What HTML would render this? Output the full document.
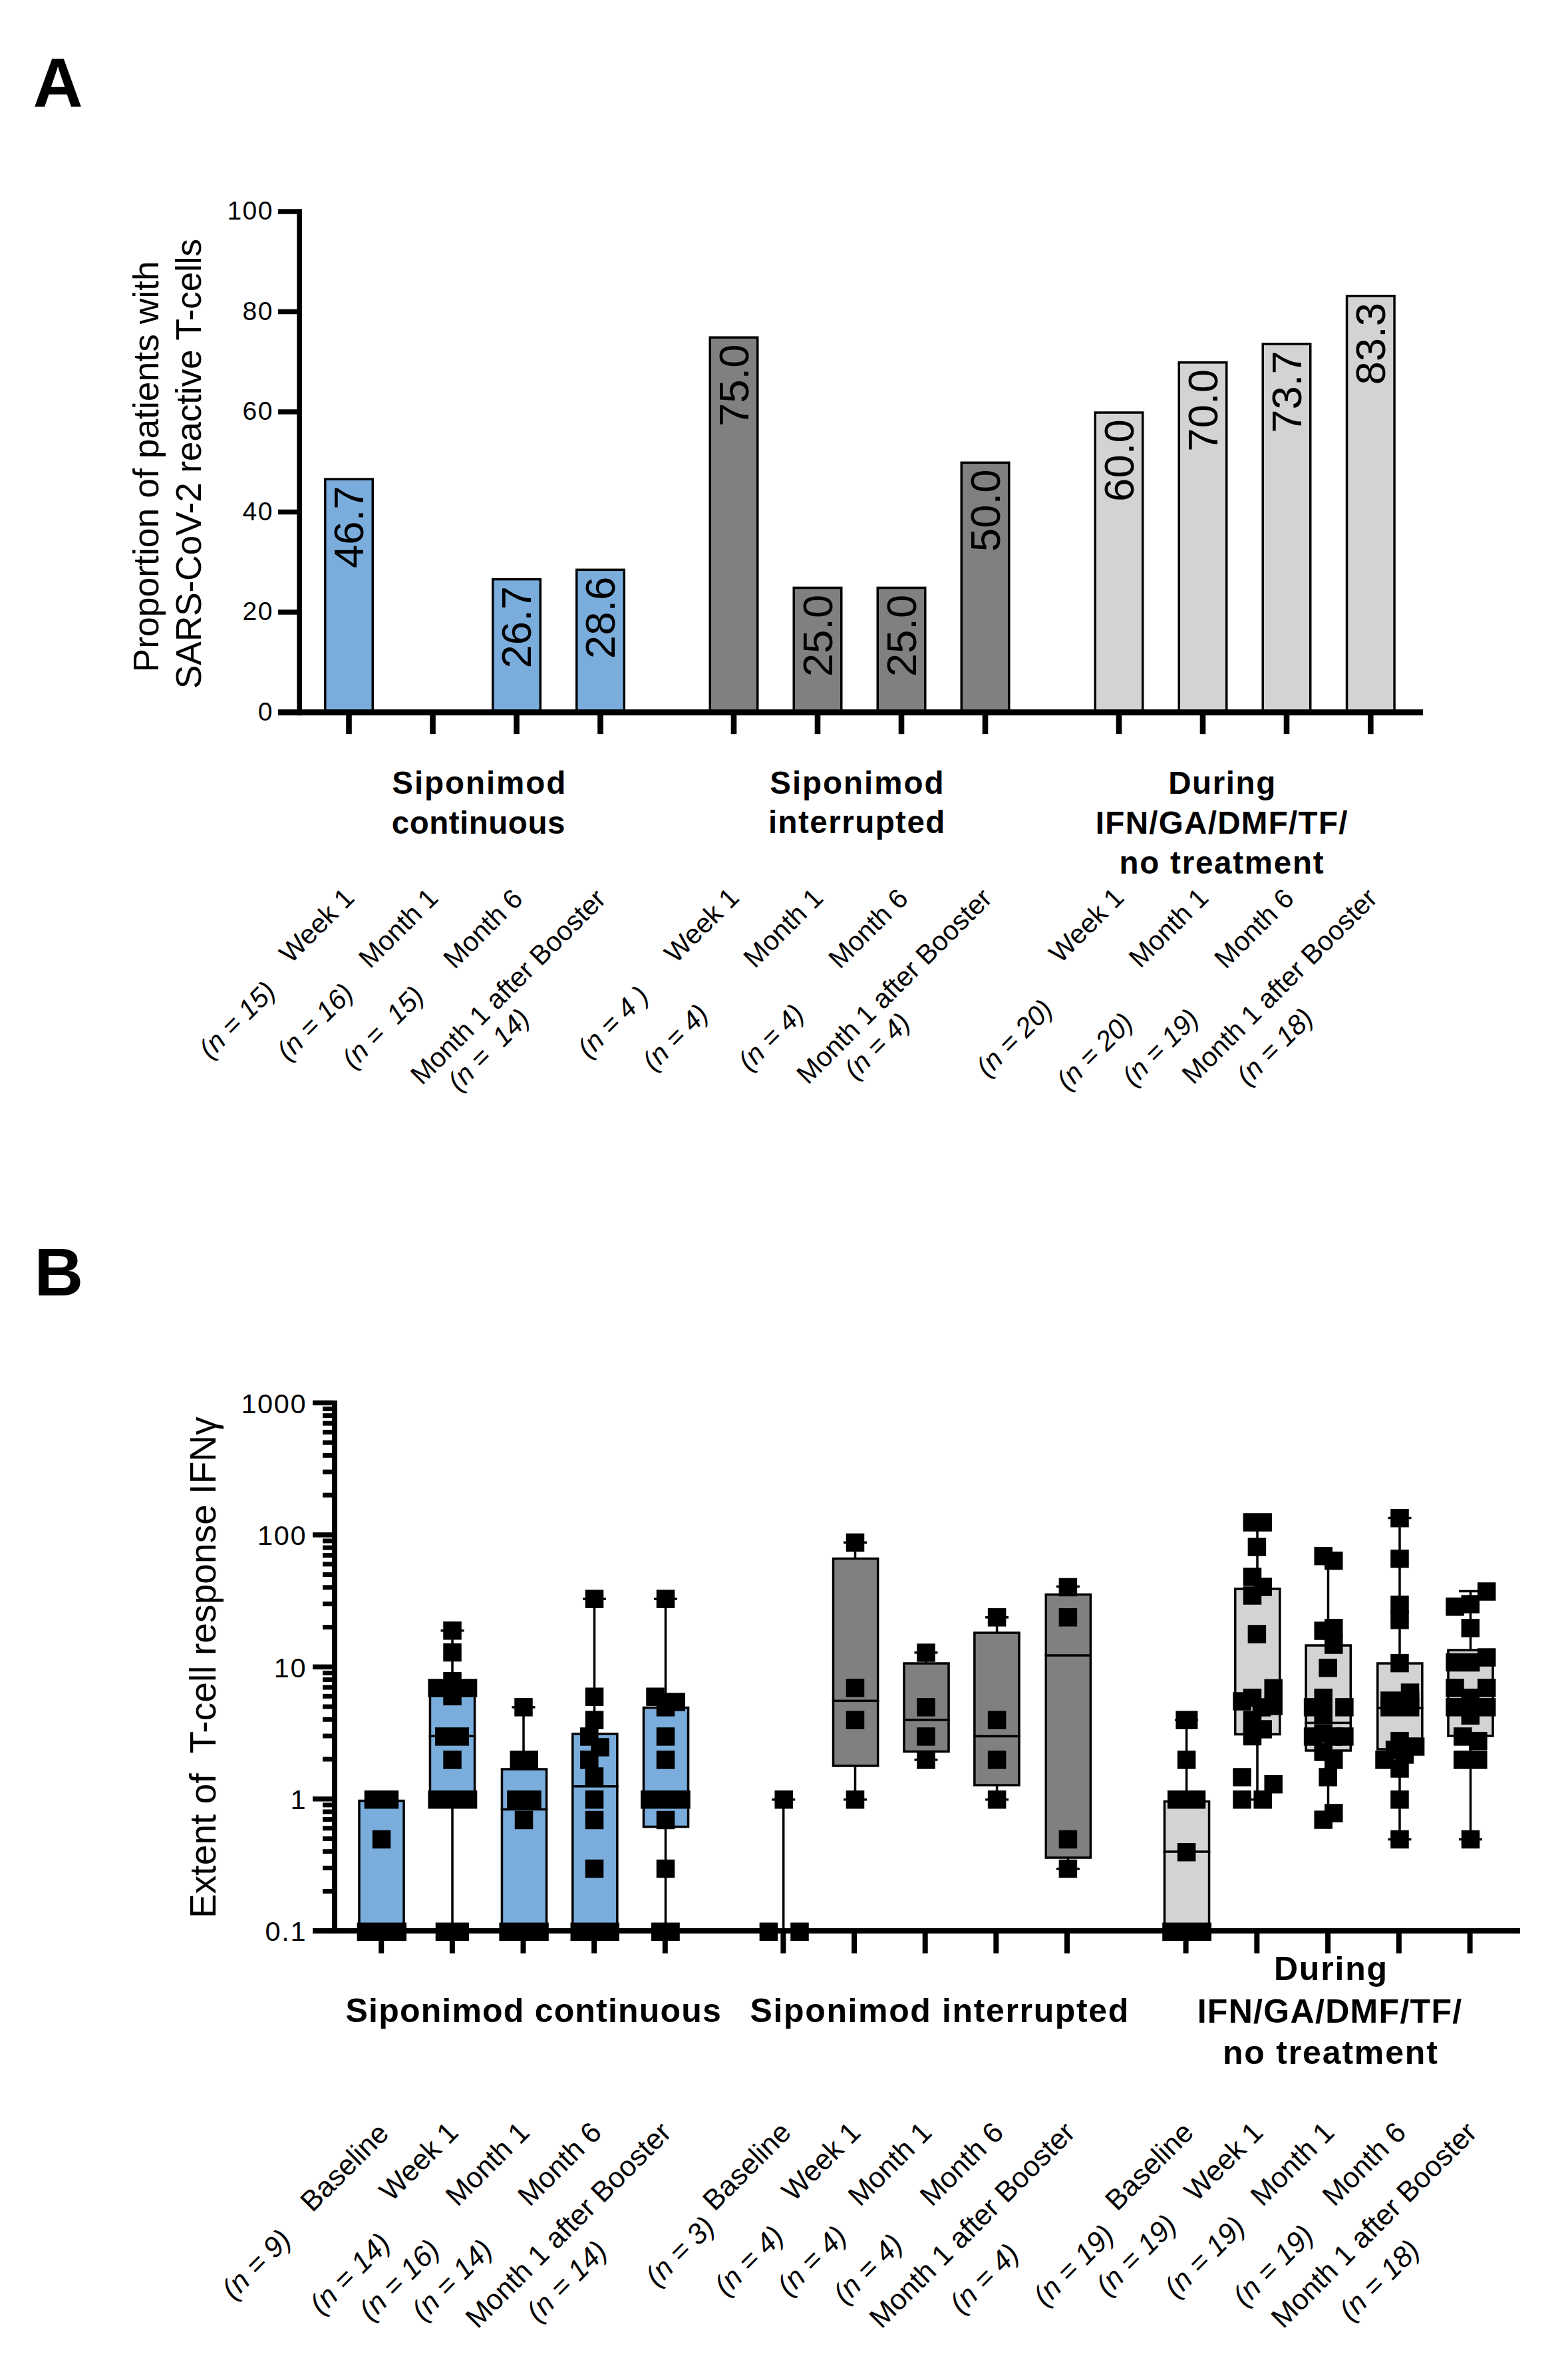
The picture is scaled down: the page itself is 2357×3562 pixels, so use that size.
<!DOCTYPE html>
<html><head><meta charset="utf-8"><title>Figure</title>
<style>
html,body{margin:0;padding:0;background:#fff;}
svg{display:block;font-family:"Liberation Sans", Arial, sans-serif;fill:#000;}
</style></head><body>
<svg width="2357" height="3562" viewBox="0 0 2357 3562">
<rect x="0" y="0" width="2357" height="3562" fill="#fff"/>
<text transform="translate(49.41,159.60)" x="0" y="0" font-size="104" textLength="75.73" lengthAdjust="spacing" font-weight="bold">A</text>
<text transform="translate(51.58,1946.80)" x="0" y="0" font-size="102" textLength="71.66" lengthAdjust="spacing" font-weight="bold">B</text>
<rect x="488.75" y="720.13" width="71.50" height="350.37" fill="#7aaddc" stroke="#000" stroke-width="3.5"/>
<text transform="translate(546.30,730.38) rotate(-90)" x="0.00" y="0" font-size="63.5" text-anchor="end">46.7</text>
<rect x="740.75" y="870.63" width="71.50" height="199.87" fill="#7aaddc" stroke="#000" stroke-width="3.5"/>
<text transform="translate(798.30,880.88) rotate(-90)" x="0.00" y="0" font-size="63.5" text-anchor="end">26.7</text>
<rect x="866.75" y="856.33" width="71.50" height="214.17" fill="#7aaddc" stroke="#000" stroke-width="3.5"/>
<text transform="translate(924.30,866.58) rotate(-90)" x="0.00" y="0" font-size="63.5" text-anchor="end">28.6</text>
<rect x="1067.25" y="507.18" width="71.50" height="563.33" fill="#808080" stroke="#000" stroke-width="3.5"/>
<text transform="translate(1124.80,517.42) rotate(-90)" x="0.00" y="0" font-size="63.5" text-anchor="end">75.0</text>
<rect x="1193.25" y="883.42" width="71.50" height="187.08" fill="#808080" stroke="#000" stroke-width="3.5"/>
<text transform="translate(1250.80,893.67) rotate(-90)" x="0.00" y="0" font-size="63.5" text-anchor="end">25.0</text>
<rect x="1319.25" y="883.42" width="71.50" height="187.08" fill="#808080" stroke="#000" stroke-width="3.5"/>
<text transform="translate(1376.80,893.67) rotate(-90)" x="0.00" y="0" font-size="63.5" text-anchor="end">25.0</text>
<rect x="1445.25" y="695.30" width="71.50" height="375.20" fill="#808080" stroke="#000" stroke-width="3.5"/>
<text transform="translate(1502.80,705.55) rotate(-90)" x="0.00" y="0" font-size="63.5" text-anchor="end">50.0</text>
<rect x="1646.25" y="620.05" width="71.50" height="450.45" fill="#d3d3d3" stroke="#000" stroke-width="3.5"/>
<text transform="translate(1703.80,630.30) rotate(-90)" x="0.00" y="0" font-size="63.5" text-anchor="end">60.0</text>
<rect x="1772.25" y="544.80" width="71.50" height="525.70" fill="#d3d3d3" stroke="#000" stroke-width="3.5"/>
<text transform="translate(1829.80,555.05) rotate(-90)" x="0.00" y="0" font-size="63.5" text-anchor="end">70.0</text>
<rect x="1898.25" y="516.96" width="71.50" height="553.54" fill="#d3d3d3" stroke="#000" stroke-width="3.5"/>
<text transform="translate(1955.80,527.21) rotate(-90)" x="0.00" y="0" font-size="63.5" text-anchor="end">73.7</text>
<rect x="2024.55" y="444.72" width="71.50" height="625.78" fill="#d3d3d3" stroke="#000" stroke-width="3.5"/>
<text transform="translate(2082.10,454.97) rotate(-90)" x="0.00" y="0" font-size="63.5" text-anchor="end">83.3</text>
<rect x="446.30" y="314.20" width="7.60" height="761.00" fill="#000"/>
<rect x="418.00" y="1066.20" width="1721.00" height="9.00" fill="#000"/>
<text transform="translate(409.50,1082.80)" x="1.50" y="0" font-size="39" text-anchor="end" letter-spacing="1.50">0</text>
<rect x="418.00" y="916.25" width="29.00" height="7.50" fill="#000"/>
<text transform="translate(409.50,932.30)" x="1.50" y="0" font-size="39" text-anchor="end" letter-spacing="1.50">20</text>
<rect x="418.00" y="765.75" width="29.00" height="7.50" fill="#000"/>
<text transform="translate(409.50,781.80)" x="1.50" y="0" font-size="39" text-anchor="end" letter-spacing="1.50">40</text>
<rect x="418.00" y="615.25" width="29.00" height="7.50" fill="#000"/>
<text transform="translate(409.50,631.30)" x="1.50" y="0" font-size="39" text-anchor="end" letter-spacing="1.50">60</text>
<rect x="418.00" y="464.75" width="29.00" height="7.50" fill="#000"/>
<text transform="translate(409.50,480.80)" x="1.50" y="0" font-size="39" text-anchor="end" letter-spacing="1.50">80</text>
<rect x="418.00" y="314.25" width="29.00" height="7.50" fill="#000"/>
<text transform="translate(409.50,330.30)" x="1.50" y="0" font-size="39" text-anchor="end" letter-spacing="1.50">100</text>
<rect x="520.20" y="1070.00" width="8.60" height="33.20" fill="#000"/>
<rect x="646.20" y="1070.00" width="8.60" height="33.20" fill="#000"/>
<rect x="772.20" y="1070.00" width="8.60" height="33.20" fill="#000"/>
<rect x="898.20" y="1070.00" width="8.60" height="33.20" fill="#000"/>
<rect x="1098.70" y="1070.00" width="8.60" height="33.20" fill="#000"/>
<rect x="1224.70" y="1070.00" width="8.60" height="33.20" fill="#000"/>
<rect x="1350.70" y="1070.00" width="8.60" height="33.20" fill="#000"/>
<rect x="1476.70" y="1070.00" width="8.60" height="33.20" fill="#000"/>
<rect x="1677.70" y="1070.00" width="8.60" height="33.20" fill="#000"/>
<rect x="1803.70" y="1070.00" width="8.60" height="33.20" fill="#000"/>
<rect x="1929.70" y="1070.00" width="8.60" height="33.20" fill="#000"/>
<rect x="2056.00" y="1070.00" width="8.60" height="33.20" fill="#000"/>
<text transform="translate(238.30,1010.39) rotate(-90)" x="0" y="0" font-size="53.5" textLength="618.26" lengthAdjust="spacing">Proportion of patients with</text>
<text transform="translate(302.00,1035.13) rotate(-90)" x="0" y="0" font-size="53.5" textLength="676.36" lengthAdjust="spacing">SARS-CoV-2 reactive T-cells</text>
<text transform="translate(589.33,1193.20)" x="0" y="0" font-size="47.5" textLength="260.90" lengthAdjust="spacing" font-weight="bold">Siponimod</text>
<text transform="translate(588.84,1252.50)" x="0" y="0" font-size="47.5" textLength="260.50" lengthAdjust="spacing" font-weight="bold">continuous</text>
<text transform="translate(1157.23,1193.00)" x="0" y="0" font-size="47.5" textLength="261.20" lengthAdjust="spacing" font-weight="bold">Siponimod</text>
<text transform="translate(1154.88,1252.20)" x="0" y="0" font-size="47.5" textLength="265.45" lengthAdjust="spacing" font-weight="bold">interrupted</text>
<text transform="translate(1756.22,1193.00)" x="0" y="0" font-size="47.5" textLength="160.95" lengthAdjust="spacing" font-weight="bold">During</text>
<text transform="translate(1646.82,1252.50)" x="0" y="0" font-size="47.5" textLength="378.64" lengthAdjust="spacing" font-weight="bold">IFN/GA/DMF/TF/</text>
<text transform="translate(1682.57,1312.50)" x="0" y="0" font-size="47.5" textLength="307.01" lengthAdjust="spacing" font-weight="bold">no treatment</text>
<text transform="translate(534.80,1351.80) rotate(-45)" x="0.00" y="0" font-size="41" text-anchor="end">Week 1</text>
<text transform="translate(316.00,1593.00) rotate(-45)" x="0.00" y="0" font-size="41" text-anchor="start" font-style="italic" xml:space="preserve" style="white-space:pre">(n = 15)</text>
<text transform="translate(661.00,1352.20) rotate(-45)" x="0.00" y="0" font-size="41" text-anchor="end">Month 1</text>
<text transform="translate(433.00,1596.00) rotate(-45)" x="0.00" y="0" font-size="41" text-anchor="start" font-style="italic" xml:space="preserve" style="white-space:pre">(n = 16)</text>
<text transform="translate(788.20,1353.30) rotate(-45)" x="0.00" y="0" font-size="41" text-anchor="end">Month 6</text>
<text transform="translate(531.00,1608.00) rotate(-45)" x="0.00" y="0" font-size="41" text-anchor="start" font-style="italic" xml:space="preserve" style="white-space:pre">(n =  15)</text>
<text transform="translate(913.00,1353.50) rotate(-45)" x="0.00" y="0" font-size="41" text-anchor="end">Month 1 after Booster</text>
<text transform="translate(690.00,1642.00) rotate(-45)" x="0.00" y="0" font-size="41" text-anchor="start" font-style="italic" xml:space="preserve" style="white-space:pre">(n =  14)</text>
<text transform="translate(1113.50,1351.50) rotate(-45)" x="0.00" y="0" font-size="41" text-anchor="end">Week 1</text>
<text transform="translate(885.00,1592.00) rotate(-45)" x="0.00" y="0" font-size="41" text-anchor="start" font-style="italic" xml:space="preserve" style="white-space:pre">(n = 4 )</text>
<text transform="translate(1239.60,1352.00) rotate(-45)" x="0.00" y="0" font-size="41" text-anchor="end">Month 1</text>
<text transform="translate(982.60,1611.30) rotate(-45)" x="0.00" y="0" font-size="41" text-anchor="start" font-style="italic" xml:space="preserve" style="white-space:pre">(n = 4)</text>
<text transform="translate(1367.30,1352.90) rotate(-45)" x="0.00" y="0" font-size="41" text-anchor="end">Month 6</text>
<text transform="translate(1126.60,1611.30) rotate(-45)" x="0.00" y="0" font-size="41" text-anchor="start" font-style="italic" xml:space="preserve" style="white-space:pre">(n = 4)</text>
<text transform="translate(1493.40,1352.70) rotate(-45)" x="0.00" y="0" font-size="41" text-anchor="end">Month 1 after Booster</text>
<text transform="translate(1286.00,1624.20) rotate(-45)" x="0.00" y="0" font-size="41" text-anchor="start" font-style="italic" xml:space="preserve" style="white-space:pre">(n = 4)</text>
<text transform="translate(1691.80,1351.40) rotate(-45)" x="0.00" y="0" font-size="41" text-anchor="end">Week 1</text>
<text transform="translate(1484.30,1620.20) rotate(-45)" x="0.00" y="0" font-size="41" text-anchor="start" font-style="italic" xml:space="preserve" style="white-space:pre">(n = 20)</text>
<text transform="translate(1818.80,1351.80) rotate(-45)" x="0.00" y="0" font-size="41" text-anchor="end">Month 1</text>
<text transform="translate(1605.00,1640.30) rotate(-45)" x="0.00" y="0" font-size="41" text-anchor="start" font-style="italic" xml:space="preserve" style="white-space:pre">(n = 20)</text>
<text transform="translate(1947.30,1352.90) rotate(-45)" x="0.00" y="0" font-size="41" text-anchor="end">Month 6</text>
<text transform="translate(1703.70,1634.20) rotate(-45)" x="0.00" y="0" font-size="41" text-anchor="start" font-style="italic" xml:space="preserve" style="white-space:pre">(n = 19)</text>
<text transform="translate(2072.60,1352.70) rotate(-45)" x="0.00" y="0" font-size="41" text-anchor="end">Month 1 after Booster</text>
<text transform="translate(1875.80,1633.40) rotate(-45)" x="0.00" y="0" font-size="41" text-anchor="start" font-style="italic" xml:space="preserve" style="white-space:pre">(n = 18)</text>
<rect x="539.95" y="2706.50" width="67.10" height="196.80" fill="#7aaddc" stroke="#000" stroke-width="3.5"/>
<rect x="547.70" y="2690.95" width="51.50" height="27.50" fill="#000"/>
<rect x="559.75" y="2750.73" width="27.50" height="27.50" fill="#000"/>
<rect x="536.60" y="2889.55" width="74.40" height="27.50" fill="#000"/>
<rect x="678.25" y="2450.74" width="3.50" height="452.56" fill="#000"/>
<rect x="662.50" y="2448.99" width="35.00" height="3.50" fill="#000"/>
<rect x="646.45" y="2537.00" width="67.10" height="167.70" fill="#7aaddc" stroke="#000" stroke-width="3.5"/>
<rect x="644.70" y="2607.55" width="70.60" height="3.50" fill="#000"/>
<rect x="666.25" y="2436.99" width="27.50" height="27.50" fill="#000"/>
<rect x="666.25" y="2469.75" width="27.50" height="27.50" fill="#000"/>
<rect x="666.25" y="2512.95" width="27.50" height="27.50" fill="#000"/>
<rect x="643.40" y="2523.25" width="73.90" height="27.50" fill="#000"/>
<rect x="666.25" y="2535.55" width="27.50" height="27.50" fill="#000"/>
<rect x="654.00" y="2596.19" width="51.00" height="27.50" fill="#000"/>
<rect x="666.25" y="2631.17" width="27.50" height="27.50" fill="#000"/>
<rect x="643.40" y="2690.95" width="73.90" height="27.50" fill="#000"/>
<rect x="654.70" y="2889.55" width="50.30" height="27.50" fill="#000"/>
<rect x="785.25" y="2565.88" width="3.50" height="93.12" fill="#000"/>
<rect x="769.50" y="2564.13" width="35.00" height="3.50" fill="#000"/>
<rect x="754.45" y="2659.00" width="67.10" height="244.30" fill="#7aaddc" stroke="#000" stroke-width="3.5"/>
<rect x="752.70" y="2717.65" width="70.60" height="3.50" fill="#000"/>
<rect x="773.25" y="2552.13" width="27.50" height="27.50" fill="#000"/>
<rect x="766.50" y="2631.17" width="42.50" height="27.50" fill="#000"/>
<rect x="762.20" y="2690.95" width="51.50" height="27.50" fill="#000"/>
<rect x="773.75" y="2721.71" width="27.50" height="27.50" fill="#000"/>
<rect x="750.40" y="2889.55" width="74.40" height="27.50" fill="#000"/>
<rect x="891.75" y="2403.12" width="3.50" height="202.88" fill="#000"/>
<rect x="876.00" y="2401.37" width="35.00" height="3.50" fill="#000"/>
<rect x="860.75" y="2606.00" width="67.10" height="297.30" fill="#7aaddc" stroke="#000" stroke-width="3.5"/>
<rect x="859.00" y="2683.05" width="70.60" height="3.50" fill="#000"/>
<rect x="879.75" y="2389.37" width="27.50" height="27.50" fill="#000"/>
<rect x="879.75" y="2536.41" width="27.50" height="27.50" fill="#000"/>
<rect x="879.75" y="2571.38" width="27.50" height="27.50" fill="#000"/>
<rect x="872.05" y="2596.25" width="27.50" height="27.50" fill="#000"/>
<rect x="888.25" y="2612.25" width="27.50" height="27.50" fill="#000"/>
<rect x="872.05" y="2631.17" width="27.50" height="27.50" fill="#000"/>
<rect x="879.65" y="2656.25" width="27.50" height="27.50" fill="#000"/>
<rect x="879.75" y="2690.95" width="27.50" height="27.50" fill="#000"/>
<rect x="879.75" y="2721.71" width="27.50" height="27.50" fill="#000"/>
<rect x="879.75" y="2794.79" width="27.50" height="27.50" fill="#000"/>
<rect x="857.50" y="2889.55" width="73.40" height="27.50" fill="#000"/>
<rect x="998.75" y="2403.12" width="3.50" height="500.18" fill="#000"/>
<rect x="983.00" y="2401.37" width="35.00" height="3.50" fill="#000"/>
<rect x="967.45" y="2566.50" width="67.10" height="179.00" fill="#7aaddc" stroke="#000" stroke-width="3.5"/>
<rect x="986.75" y="2389.37" width="27.50" height="27.50" fill="#000"/>
<rect x="971.25" y="2536.41" width="27.50" height="27.50" fill="#000"/>
<rect x="996.00" y="2544.25" width="34.00" height="27.50" fill="#000"/>
<rect x="986.75" y="2552.13" width="27.50" height="27.50" fill="#000"/>
<rect x="986.75" y="2596.19" width="27.50" height="27.50" fill="#000"/>
<rect x="986.75" y="2631.17" width="27.50" height="27.50" fill="#000"/>
<rect x="963.00" y="2690.95" width="74.70" height="27.50" fill="#000"/>
<rect x="986.75" y="2721.71" width="27.50" height="27.50" fill="#000"/>
<rect x="986.75" y="2794.79" width="27.50" height="27.50" fill="#000"/>
<rect x="979.00" y="2889.55" width="42.80" height="27.50" fill="#000"/>
<rect x="1175.95" y="2704.70" width="3.50" height="198.60" fill="#000"/>
<rect x="1160.20" y="2702.95" width="35.00" height="3.50" fill="#000"/>
<rect x="1164.45" y="2690.95" width="27.50" height="27.50" fill="#000"/>
<rect x="1141.65" y="2889.55" width="27.50" height="27.50" fill="#000"/>
<rect x="1188.25" y="2889.55" width="27.50" height="27.50" fill="#000"/>
<rect x="1283.75" y="2318.30" width="3.50" height="386.40" fill="#000"/>
<rect x="1268.00" y="2316.55" width="35.00" height="3.50" fill="#000"/>
<rect x="1268.00" y="2702.95" width="35.00" height="3.50" fill="#000"/>
<rect x="1252.55" y="2342.50" width="67.10" height="311.50" fill="#808080" stroke="#000" stroke-width="3.5"/>
<rect x="1250.80" y="2554.55" width="70.60" height="3.50" fill="#000"/>
<rect x="1271.75" y="2304.65" width="27.50" height="27.50" fill="#000"/>
<rect x="1271.75" y="2523.11" width="27.50" height="27.50" fill="#000"/>
<rect x="1271.75" y="2571.38" width="27.50" height="27.50" fill="#000"/>
<rect x="1271.75" y="2690.95" width="27.50" height="27.50" fill="#000"/>
<rect x="1390.25" y="2483.80" width="3.50" height="161.12" fill="#000"/>
<rect x="1374.50" y="2482.05" width="35.00" height="3.50" fill="#000"/>
<rect x="1374.50" y="2643.17" width="35.00" height="3.50" fill="#000"/>
<rect x="1358.95" y="2500.00" width="67.10" height="132.50" fill="#808080" stroke="#000" stroke-width="3.5"/>
<rect x="1357.20" y="2583.25" width="70.60" height="3.50" fill="#000"/>
<rect x="1378.25" y="2470.25" width="27.50" height="27.50" fill="#000"/>
<rect x="1378.25" y="2552.13" width="27.50" height="27.50" fill="#000"/>
<rect x="1378.25" y="2596.19" width="27.50" height="27.50" fill="#000"/>
<rect x="1378.25" y="2631.17" width="27.50" height="27.50" fill="#000"/>
<rect x="1496.85" y="2430.80" width="3.50" height="273.90" fill="#000"/>
<rect x="1481.10" y="2429.05" width="35.00" height="3.50" fill="#000"/>
<rect x="1481.10" y="2702.95" width="35.00" height="3.50" fill="#000"/>
<rect x="1464.85" y="2454.00" width="67.10" height="229.00" fill="#808080" stroke="#000" stroke-width="3.5"/>
<rect x="1463.10" y="2607.75" width="70.60" height="3.50" fill="#000"/>
<rect x="1484.85" y="2417.05" width="27.50" height="27.50" fill="#000"/>
<rect x="1484.85" y="2571.38" width="27.50" height="27.50" fill="#000"/>
<rect x="1484.85" y="2631.17" width="27.50" height="27.50" fill="#000"/>
<rect x="1484.85" y="2690.95" width="27.50" height="27.50" fill="#000"/>
<rect x="1603.65" y="2384.50" width="3.50" height="424.30" fill="#000"/>
<rect x="1587.90" y="2382.75" width="35.00" height="3.50" fill="#000"/>
<rect x="1587.90" y="2807.05" width="35.00" height="3.50" fill="#000"/>
<rect x="1572.25" y="2396.50" width="67.10" height="395.50" fill="#808080" stroke="#000" stroke-width="3.5"/>
<rect x="1570.50" y="2486.25" width="70.60" height="3.50" fill="#000"/>
<rect x="1591.65" y="2371.75" width="27.50" height="27.50" fill="#000"/>
<rect x="1591.65" y="2417.05" width="27.50" height="27.50" fill="#000"/>
<rect x="1591.65" y="2750.73" width="27.50" height="27.50" fill="#000"/>
<rect x="1591.65" y="2794.79" width="27.50" height="27.50" fill="#000"/>
<rect x="1781.85" y="2585.13" width="3.50" height="121.87" fill="#000"/>
<rect x="1766.10" y="2583.38" width="35.00" height="3.50" fill="#000"/>
<rect x="1750.45" y="2707.50" width="67.10" height="195.80" fill="#d3d3d3" stroke="#000" stroke-width="3.5"/>
<rect x="1748.70" y="2781.25" width="70.60" height="3.50" fill="#000"/>
<rect x="1767.40" y="2571.38" width="33.00" height="27.50" fill="#000"/>
<rect x="1769.85" y="2631.17" width="27.50" height="27.50" fill="#000"/>
<rect x="1755.00" y="2690.95" width="57.20" height="27.50" fill="#000"/>
<rect x="1769.85" y="2769.98" width="27.50" height="27.50" fill="#000"/>
<rect x="1747.20" y="2889.55" width="73.80" height="27.50" fill="#000"/>
<rect x="1888.25" y="2288.00" width="3.50" height="416.70" fill="#000"/>
<rect x="1872.50" y="2702.95" width="35.00" height="3.50" fill="#000"/>
<rect x="1856.75" y="2388.00" width="67.10" height="218.60" fill="#d3d3d3" stroke="#000" stroke-width="3.5"/>
<rect x="1868.60" y="2274.25" width="43.40" height="27.50" fill="#000"/>
<rect x="1875.65" y="2311.25" width="27.50" height="27.50" fill="#000"/>
<rect x="1868.75" y="2356.25" width="27.50" height="27.50" fill="#000"/>
<rect x="1884.45" y="2371.25" width="27.50" height="27.50" fill="#000"/>
<rect x="1868.75" y="2384.25" width="27.50" height="27.50" fill="#000"/>
<rect x="1875.65" y="2442.25" width="27.50" height="27.50" fill="#000"/>
<rect x="1900.45" y="2523.65" width="27.50" height="27.50" fill="#000"/>
<rect x="1900.45" y="2550.25" width="27.50" height="27.50" fill="#000"/>
<rect x="1853.25" y="2543.25" width="27.50" height="27.50" fill="#000"/>
<rect x="1868.75" y="2537.95" width="27.50" height="27.50" fill="#000"/>
<rect x="1882.75" y="2552.25" width="27.50" height="27.50" fill="#000"/>
<rect x="1868.75" y="2571.25" width="27.50" height="27.50" fill="#000"/>
<rect x="1884.45" y="2585.25" width="27.50" height="27.50" fill="#000"/>
<rect x="1868.75" y="2595.75" width="27.50" height="27.50" fill="#000"/>
<rect x="1853.25" y="2657.25" width="27.50" height="27.50" fill="#000"/>
<rect x="1900.45" y="2667.95" width="27.50" height="27.50" fill="#000"/>
<rect x="1853.25" y="2690.95" width="27.50" height="27.50" fill="#000"/>
<rect x="1884.45" y="2690.95" width="27.50" height="27.50" fill="#000"/>
<rect x="1994.75" y="2338.00" width="3.50" height="397.00" fill="#000"/>
<rect x="1963.15" y="2473.00" width="67.10" height="158.00" fill="#d3d3d3" stroke="#000" stroke-width="3.5"/>
<rect x="1961.40" y="2587.65" width="70.60" height="3.50" fill="#000"/>
<rect x="1975.45" y="2324.95" width="27.50" height="27.50" fill="#000"/>
<rect x="1991.05" y="2331.95" width="27.50" height="27.50" fill="#000"/>
<rect x="1991.05" y="2433.15" width="27.50" height="27.50" fill="#000"/>
<rect x="1975.45" y="2437.25" width="27.50" height="27.50" fill="#000"/>
<rect x="1991.05" y="2458.25" width="27.50" height="27.50" fill="#000"/>
<rect x="1982.45" y="2492.95" width="27.50" height="27.50" fill="#000"/>
<rect x="1975.45" y="2537.95" width="27.50" height="27.50" fill="#000"/>
<rect x="1959.85" y="2552.13" width="27.50" height="27.50" fill="#000"/>
<rect x="2007.15" y="2552.13" width="27.50" height="27.50" fill="#000"/>
<rect x="1975.45" y="2561.65" width="27.50" height="27.50" fill="#000"/>
<rect x="1959.85" y="2596.19" width="27.50" height="27.50" fill="#000"/>
<rect x="2007.15" y="2596.19" width="27.50" height="27.50" fill="#000"/>
<rect x="1975.45" y="2591.25" width="27.50" height="27.50" fill="#000"/>
<rect x="1991.05" y="2596.19" width="27.50" height="27.50" fill="#000"/>
<rect x="1975.45" y="2619.25" width="27.50" height="27.50" fill="#000"/>
<rect x="1991.05" y="2631.17" width="27.50" height="27.50" fill="#000"/>
<rect x="1982.45" y="2657.25" width="27.50" height="27.50" fill="#000"/>
<rect x="1991.05" y="2711.25" width="27.50" height="27.50" fill="#000"/>
<rect x="1975.45" y="2721.25" width="27.50" height="27.50" fill="#000"/>
<rect x="2102.25" y="2281.50" width="3.50" height="482.98" fill="#000"/>
<rect x="2086.50" y="2279.75" width="35.00" height="3.50" fill="#000"/>
<rect x="2086.50" y="2762.73" width="35.00" height="3.50" fill="#000"/>
<rect x="2070.75" y="2500.00" width="67.10" height="129.00" fill="#d3d3d3" stroke="#000" stroke-width="3.5"/>
<rect x="2069.00" y="2565.25" width="70.60" height="3.50" fill="#000"/>
<rect x="2090.25" y="2267.95" width="27.50" height="27.50" fill="#000"/>
<rect x="2090.25" y="2328.95" width="27.50" height="27.50" fill="#000"/>
<rect x="2090.25" y="2398.25" width="27.50" height="27.50" fill="#000"/>
<rect x="2090.25" y="2420.95" width="27.50" height="27.50" fill="#000"/>
<rect x="2090.25" y="2485.85" width="27.50" height="27.50" fill="#000"/>
<rect x="2105.75" y="2530.25" width="27.50" height="27.50" fill="#000"/>
<rect x="2075.20" y="2542.25" width="58.20" height="27.50" fill="#000"/>
<rect x="2075.20" y="2552.13" width="58.20" height="27.50" fill="#000"/>
<rect x="2090.25" y="2602.95" width="27.50" height="27.50" fill="#000"/>
<rect x="2113.85" y="2611.25" width="27.50" height="27.50" fill="#000"/>
<rect x="2067.25" y="2631.17" width="27.50" height="27.50" fill="#000"/>
<rect x="2082.85" y="2616.25" width="27.50" height="27.50" fill="#000"/>
<rect x="2097.65" y="2623.25" width="27.50" height="27.50" fill="#000"/>
<rect x="2090.25" y="2644.25" width="27.50" height="27.50" fill="#000"/>
<rect x="2090.25" y="2690.95" width="27.50" height="27.50" fill="#000"/>
<rect x="2090.25" y="2750.73" width="27.50" height="27.50" fill="#000"/>
<rect x="2208.75" y="2391.50" width="3.50" height="372.98" fill="#000"/>
<rect x="2193.00" y="2389.75" width="35.00" height="3.50" fill="#000"/>
<rect x="2193.00" y="2762.73" width="35.00" height="3.50" fill="#000"/>
<rect x="2176.95" y="2480.00" width="67.10" height="129.00" fill="#d3d3d3" stroke="#000" stroke-width="3.5"/>
<rect x="2175.20" y="2562.55" width="70.60" height="3.50" fill="#000"/>
<rect x="2220.95" y="2378.25" width="27.50" height="27.50" fill="#000"/>
<rect x="2196.55" y="2397.25" width="27.50" height="27.50" fill="#000"/>
<rect x="2173.25" y="2401.05" width="27.50" height="27.50" fill="#000"/>
<rect x="2196.55" y="2433.15" width="27.50" height="27.50" fill="#000"/>
<rect x="2220.95" y="2477.25" width="27.50" height="27.50" fill="#000"/>
<rect x="2173.30" y="2484.75" width="51.10" height="27.50" fill="#000"/>
<rect x="2173.25" y="2523.11" width="27.50" height="27.50" fill="#000"/>
<rect x="2220.95" y="2523.11" width="27.50" height="27.50" fill="#000"/>
<rect x="2196.55" y="2537.95" width="27.50" height="27.50" fill="#000"/>
<rect x="2173.25" y="2552.13" width="27.50" height="27.50" fill="#000"/>
<rect x="2220.95" y="2552.13" width="27.50" height="27.50" fill="#000"/>
<rect x="2196.55" y="2564.55" width="27.50" height="27.50" fill="#000"/>
<rect x="2185.05" y="2596.19" width="27.50" height="27.50" fill="#000"/>
<rect x="2208.15" y="2602.95" width="27.50" height="27.50" fill="#000"/>
<rect x="2185.00" y="2631.17" width="50.60" height="27.50" fill="#000"/>
<rect x="2196.75" y="2750.73" width="27.50" height="27.50" fill="#000"/>
<rect x="499.00" y="2104.80" width="8.00" height="801.20" fill="#000"/>
<rect x="470.00" y="2898.00" width="1815.00" height="8.00" fill="#000"/>
<rect x="485.00" y="2838.96" width="15.00" height="7.00" fill="#000"/>
<rect x="485.00" y="2804.02" width="15.00" height="7.00" fill="#000"/>
<rect x="485.00" y="2779.22" width="15.00" height="7.00" fill="#000"/>
<rect x="485.00" y="2759.99" width="15.00" height="7.00" fill="#000"/>
<rect x="485.00" y="2744.28" width="15.00" height="7.00" fill="#000"/>
<rect x="485.00" y="2730.99" width="15.00" height="7.00" fill="#000"/>
<rect x="485.00" y="2719.48" width="15.00" height="7.00" fill="#000"/>
<rect x="485.00" y="2709.33" width="15.00" height="7.00" fill="#000"/>
<text transform="translate(459.50,2917.40)" x="1.60" y="0" font-size="41.5" text-anchor="end" letter-spacing="1.60">0.1</text>
<rect x="470.00" y="2700.00" width="30.00" height="7.50" fill="#000"/>
<rect x="485.00" y="2640.51" width="15.00" height="7.00" fill="#000"/>
<rect x="485.00" y="2605.57" width="15.00" height="7.00" fill="#000"/>
<rect x="485.00" y="2580.77" width="15.00" height="7.00" fill="#000"/>
<rect x="485.00" y="2561.54" width="15.00" height="7.00" fill="#000"/>
<rect x="485.00" y="2545.83" width="15.00" height="7.00" fill="#000"/>
<rect x="485.00" y="2532.54" width="15.00" height="7.00" fill="#000"/>
<rect x="485.00" y="2521.03" width="15.00" height="7.00" fill="#000"/>
<rect x="485.00" y="2510.88" width="15.00" height="7.00" fill="#000"/>
<text transform="translate(459.50,2718.95)" x="1.60" y="0" font-size="41.5" text-anchor="end" letter-spacing="1.60">1</text>
<rect x="470.00" y="2501.55" width="30.00" height="7.50" fill="#000"/>
<rect x="485.00" y="2442.06" width="15.00" height="7.00" fill="#000"/>
<rect x="485.00" y="2407.12" width="15.00" height="7.00" fill="#000"/>
<rect x="485.00" y="2382.32" width="15.00" height="7.00" fill="#000"/>
<rect x="485.00" y="2363.09" width="15.00" height="7.00" fill="#000"/>
<rect x="485.00" y="2347.38" width="15.00" height="7.00" fill="#000"/>
<rect x="485.00" y="2334.09" width="15.00" height="7.00" fill="#000"/>
<rect x="485.00" y="2322.58" width="15.00" height="7.00" fill="#000"/>
<rect x="485.00" y="2312.43" width="15.00" height="7.00" fill="#000"/>
<text transform="translate(459.50,2520.50)" x="1.60" y="0" font-size="41.5" text-anchor="end" letter-spacing="1.60">10</text>
<rect x="470.00" y="2303.10" width="30.00" height="7.50" fill="#000"/>
<rect x="485.00" y="2243.61" width="15.00" height="7.00" fill="#000"/>
<rect x="485.00" y="2208.67" width="15.00" height="7.00" fill="#000"/>
<rect x="485.00" y="2183.87" width="15.00" height="7.00" fill="#000"/>
<rect x="485.00" y="2164.64" width="15.00" height="7.00" fill="#000"/>
<rect x="485.00" y="2148.93" width="15.00" height="7.00" fill="#000"/>
<rect x="485.00" y="2135.64" width="15.00" height="7.00" fill="#000"/>
<rect x="485.00" y="2124.13" width="15.00" height="7.00" fill="#000"/>
<rect x="485.00" y="2113.98" width="15.00" height="7.00" fill="#000"/>
<text transform="translate(459.50,2322.05)" x="1.60" y="0" font-size="41.5" text-anchor="end" letter-spacing="1.60">100</text>
<rect x="470.00" y="2104.65" width="30.00" height="7.50" fill="#000"/>
<text transform="translate(459.50,2123.60)" x="1.60" y="0" font-size="41.5" text-anchor="end" letter-spacing="1.60">1000</text>
<rect x="569.20" y="2902.00" width="8.00" height="33.80" fill="#000"/>
<rect x="675.85" y="2902.00" width="8.00" height="33.80" fill="#000"/>
<rect x="782.50" y="2902.00" width="8.00" height="33.80" fill="#000"/>
<rect x="889.15" y="2902.00" width="8.00" height="33.80" fill="#000"/>
<rect x="995.80" y="2902.00" width="8.00" height="33.80" fill="#000"/>
<rect x="1173.40" y="2902.00" width="8.00" height="33.80" fill="#000"/>
<rect x="1280.05" y="2902.00" width="8.00" height="33.80" fill="#000"/>
<rect x="1386.70" y="2902.00" width="8.00" height="33.80" fill="#000"/>
<rect x="1493.35" y="2902.00" width="8.00" height="33.80" fill="#000"/>
<rect x="1600.00" y="2902.00" width="8.00" height="33.80" fill="#000"/>
<rect x="1778.60" y="2902.00" width="8.00" height="33.80" fill="#000"/>
<rect x="1885.35" y="2902.00" width="8.00" height="33.80" fill="#000"/>
<rect x="1992.10" y="2902.00" width="8.00" height="33.80" fill="#000"/>
<rect x="2098.85" y="2902.00" width="8.00" height="33.80" fill="#000"/>
<rect x="2205.60" y="2902.00" width="8.00" height="33.80" fill="#000"/>
<text transform="translate(324.00,2883.01) rotate(-90)" x="0" y="0" font-size="55" textLength="753.70" lengthAdjust="spacing" xml:space="preserve" style="white-space:pre">Extent of  T-cell response IFNγ</text>
<text transform="translate(519.56,3039.30)" x="0" y="0" font-size="50" textLength="564.19" lengthAdjust="spacing" font-weight="bold">Siponimod continuous</text>
<text transform="translate(1127.56,3038.70)" x="0" y="0" font-size="50" textLength="568.74" lengthAdjust="spacing" font-weight="bold">Siponimod interrupted</text>
<text transform="translate(1914.96,2976.30)" x="0" y="0" font-size="50" textLength="170.09" lengthAdjust="spacing" font-weight="bold">During</text>
<text transform="translate(1799.66,3040.00)" x="0" y="0" font-size="50" textLength="397.53" lengthAdjust="spacing" font-weight="bold">IFN/GA/DMF/TF/</text>
<text transform="translate(1837.90,3101.70)" x="0" y="0" font-size="50" textLength="322.91" lengthAdjust="spacing" font-weight="bold">no treatment</text>
<text transform="translate(586.70,3209.00) rotate(-45)" x="0.00" y="0" font-size="43.2" text-anchor="end">Baseline</text>
<text transform="translate(351.00,3458.00) rotate(-45)" x="0.00" y="0" font-size="43.2" text-anchor="start" font-style="italic" xml:space="preserve" style="white-space:pre">(n = 9)</text>
<text transform="translate(691.20,3207.50) rotate(-45)" x="0.00" y="0" font-size="43.2" text-anchor="end">Week 1</text>
<text transform="translate(483.30,3480.40) rotate(-45)" x="0.00" y="0" font-size="43.2" text-anchor="start" font-style="italic" xml:space="preserve" style="white-space:pre">(n = 14)</text>
<text transform="translate(798.20,3207.50) rotate(-45)" x="0.00" y="0" font-size="43.2" text-anchor="end">Month 1</text>
<text transform="translate(557.40,3490.00) rotate(-45)" x="0.00" y="0" font-size="43.2" text-anchor="start" font-style="italic" xml:space="preserve" style="white-space:pre">(n = 16)</text>
<text transform="translate(906.70,3207.50) rotate(-45)" x="0.00" y="0" font-size="43.2" text-anchor="end">Month 6</text>
<text transform="translate(636.60,3490.00) rotate(-45)" x="0.00" y="0" font-size="43.2" text-anchor="start" font-style="italic" xml:space="preserve" style="white-space:pre">(n = 14)</text>
<text transform="translate(1011.50,3207.50) rotate(-45)" x="0.00" y="0" font-size="43.2" text-anchor="end">Month 1 after Booster</text>
<text transform="translate(809.00,3492.00) rotate(-45)" x="0.00" y="0" font-size="43.2" text-anchor="start" font-style="italic" xml:space="preserve" style="white-space:pre">(n = 14)</text>
<text transform="translate(1191.50,3207.50) rotate(-45)" x="0.00" y="0" font-size="43.2" text-anchor="end">Baseline</text>
<text transform="translate(987.80,3438.50) rotate(-45)" x="0.00" y="0" font-size="43.2" text-anchor="start" font-style="italic" xml:space="preserve" style="white-space:pre">(n = 3)</text>
<text transform="translate(1296.00,3207.50) rotate(-45)" x="0.00" y="0" font-size="43.2" text-anchor="end">Week 1</text>
<text transform="translate(1091.60,3452.40) rotate(-45)" x="0.00" y="0" font-size="43.2" text-anchor="start" font-style="italic" xml:space="preserve" style="white-space:pre">(n = 4)</text>
<text transform="translate(1403.00,3207.50) rotate(-45)" x="0.00" y="0" font-size="43.2" text-anchor="end">Month 1</text>
<text transform="translate(1186.00,3452.40) rotate(-45)" x="0.00" y="0" font-size="43.2" text-anchor="start" font-style="italic" xml:space="preserve" style="white-space:pre">(n = 4)</text>
<text transform="translate(1511.00,3207.50) rotate(-45)" x="0.00" y="0" font-size="43.2" text-anchor="end">Month 6</text>
<text transform="translate(1270.20,3464.80) rotate(-45)" x="0.00" y="0" font-size="43.2" text-anchor="start" font-style="italic" xml:space="preserve" style="white-space:pre">(n = 4)</text>
<text transform="translate(1618.50,3207.50) rotate(-45)" x="0.00" y="0" font-size="43.2" text-anchor="end">Month 1 after Booster</text>
<text transform="translate(1445.30,3479.30) rotate(-45)" x="0.00" y="0" font-size="43.2" text-anchor="start" font-style="italic" xml:space="preserve" style="white-space:pre">(n = 4)</text>
<text transform="translate(1796.50,3207.50) rotate(-45)" x="0.00" y="0" font-size="43.2" text-anchor="end">Baseline</text>
<text transform="translate(1571.00,3467.90) rotate(-45)" x="0.00" y="0" font-size="43.2" text-anchor="start" font-style="italic" xml:space="preserve" style="white-space:pre">(n = 19)</text>
<text transform="translate(1901.00,3207.50) rotate(-45)" x="0.00" y="0" font-size="43.2" text-anchor="end">Week 1</text>
<text transform="translate(1665.20,3452.60) rotate(-45)" x="0.00" y="0" font-size="43.2" text-anchor="start" font-style="italic" xml:space="preserve" style="white-space:pre">(n = 19)</text>
<text transform="translate(2008.00,3207.50) rotate(-45)" x="0.00" y="0" font-size="43.2" text-anchor="end">Month 1</text>
<text transform="translate(1768.00,3455.30) rotate(-45)" x="0.00" y="0" font-size="43.2" text-anchor="start" font-style="italic" xml:space="preserve" style="white-space:pre">(n = 19)</text>
<text transform="translate(2116.00,3207.50) rotate(-45)" x="0.00" y="0" font-size="43.2" text-anchor="end">Month 6</text>
<text transform="translate(1871.00,3468.20) rotate(-45)" x="0.00" y="0" font-size="43.2" text-anchor="start" font-style="italic" xml:space="preserve" style="white-space:pre">(n = 19)</text>
<text transform="translate(2222.50,3207.50) rotate(-45)" x="0.00" y="0" font-size="43.2" text-anchor="end">Month 1 after Booster</text>
<text transform="translate(2030.70,3490.30) rotate(-45)" x="0.00" y="0" font-size="43.2" text-anchor="start" font-style="italic" xml:space="preserve" style="white-space:pre">(n = 18)</text>
</svg>
</body></html>
